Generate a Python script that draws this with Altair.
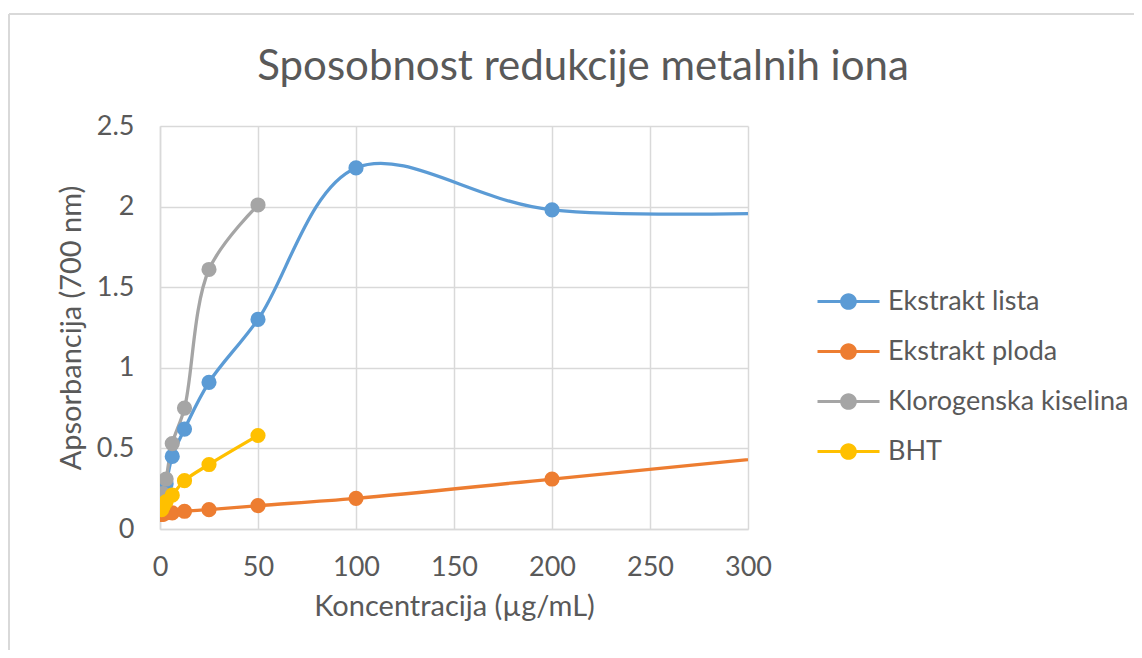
import altair as alt
import pandas as pd

series_names = ["Ekstrakt lista", "Ekstrakt ploda", "Klorogenska kiselina", "BHT"]
colors = ["#5B9BD5", "#ED7D31", "#A5A5A5", "#FFC000"]

conc_long = [0.78, 1.56, 3.125, 6.25, 12.5, 25, 50, 100, 200, 400]
conc_short = [0.78, 1.56, 3.125, 6.25, 12.5, 25, 50]

lista = [0.16, 0.20, 0.28, 0.45, 0.62, 0.91, 1.30, 2.24, 1.98, 1.995]
ploda = [0.09, 0.09, 0.10, 0.10, 0.11, 0.12, 0.145, 0.19, 0.31, 0.55]
klorogenska = [0.17, 0.22, 0.31, 0.53, 0.75, 1.61, 2.01]
bht = [0.12, 0.14, 0.17, 0.21, 0.30, 0.40, 0.58]

x_ticks = [0, 50, 100, 150, 200, 250, 300]
y_ticks = [0, 0.5, 1, 1.5, 2, 2.5]

rows = []
for name, xs, ys in [
    (series_names[0], conc_long, lista),
    (series_names[1], conc_long, ploda),
    (series_names[2], conc_short, klorogenska),
    (series_names[3], conc_short, bht),
]:
    for i, (x, y) in enumerate(zip(xs, ys)):
        rows.append({"Serija": name, "c": x, "A": y, "i": i})
df = pd.DataFrame(rows)

FONT = "Lato"
TXT = "#595959"
GRID = "#D9D9D9"

color_scale = alt.Scale(domain=series_names, range=colors)
legend_path = ("M-2,-0.1H2V0.1H-2Z "
               "M-0.54,0A0.54,0.54 0 1,1 0.54,0A0.54,0.54 0 1,1 -0.54,0Z")
legend = alt.Legend(title=None, orient="none", legendX=657, legendY=160,
                    symbolType=legend_path, symbolSize=961,
                    symbolStrokeWidth=0, symbolOpacity=1,
                    symbolOffset=16, labelOffset=24,
                    rowPadding=21, labelFontSize=27,
                    labelFont=FONT, labelColor=TXT, labelLimit=400)

x_enc = alt.X("c:Q", scale=alt.Scale(domain=[0, 300], nice=False, zero=True),
              axis=alt.Axis(values=x_ticks, title="Koncentracija (µg/mL)", format="d",
                            labelFlush=False))
y_enc = alt.Y("A:Q", scale=alt.Scale(domain=[0, 2.5], nice=False),
              axis=alt.Axis(values=y_ticks, title="Apsorbancija (700 nm)", format="~g",
                            labelFlush=False))
c_enc = alt.Color("Serija:N", scale=color_scale, sort=series_names, legend=legend)

base = alt.Chart(df)

lines = base.mark_line(interpolate="catmull-rom", strokeWidth=3.3, clip=True).encode(
    x=x_enc, y=y_enc, color=c_enc, detail="Serija:N", order="i:Q",
)
points = base.mark_point(filled=True, size=230, opacity=1, clip=True).encode(
    x=x_enc, y=y_enc, color=c_enc,
)

frame_top = alt.Chart(pd.DataFrame({"k": [0]})).mark_rule(color=GRID, strokeWidth=2).encode(
    x=alt.value(-151), x2=alt.value(1000), y=alt.value(-112))
frame_left = alt.Chart(pd.DataFrame({"k": [0]})).mark_rule(color=GRID, strokeWidth=2).encode(
    x=alt.value(-151), y=alt.value(-112), y2=alt.value(560))

chart = alt.layer(frame_top, frame_left, lines, points).properties(
    width=588, height=403,
    autosize=alt.AutoSizeParams(type="none"),
    padding={"left": 152, "top": 118, "right": 386, "bottom": 121},
    title=alt.TitleParams("Sposobnost redukcije metalnih iona", fontSize=42, font=FONT,
                          color=TXT, fontWeight="normal", anchor="middle",
                          dx=129, dy=76, offset=0),
).configure_view(stroke=None).configure_axis(
    grid=True, gridColor=GRID, gridWidth=1.5, domainColor=GRID, domainWidth=1.5,
    ticks=False, labelFont=FONT, labelFontSize=27, labelColor=TXT,
    titleFont=FONT, titleFontSize=29, titleColor=TXT, titleFontWeight="normal",
).configure_axisX(labelPadding=25, titlePadding=12).configure_axisY(
    labelPadding=26, titlePadding=10)

chart.save("out.html", embed_options={"renderer": "svg", "actions": False})
